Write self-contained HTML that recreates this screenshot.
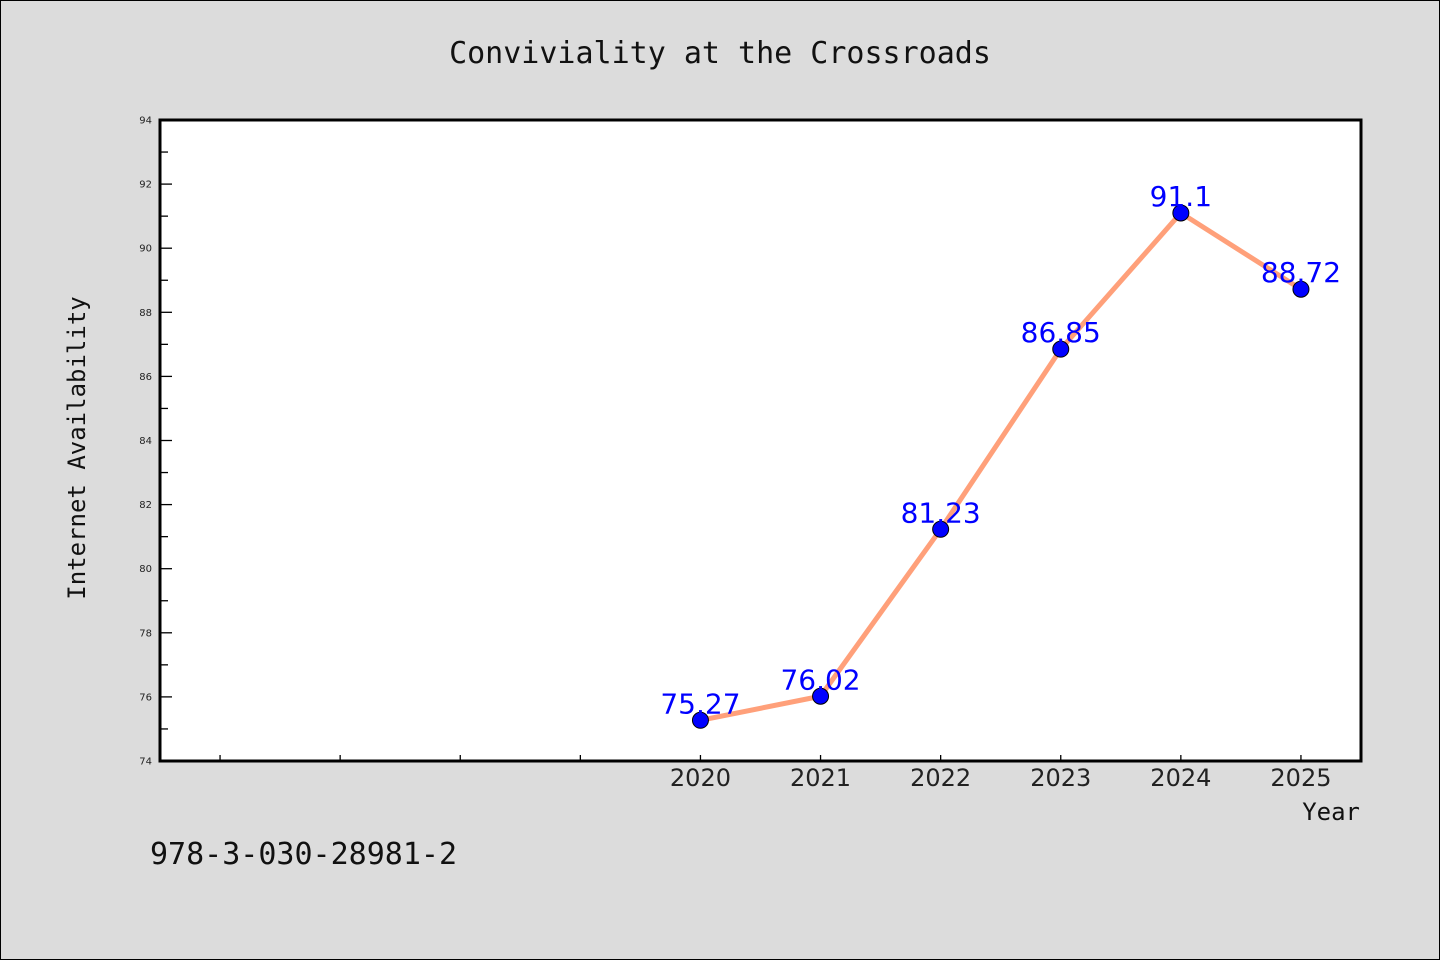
<!DOCTYPE html>
<html><head><meta charset="utf-8"><style>
body{margin:0;background:#dcdcdc;}
svg{display:block}
</style></head><body>
<svg width="1440" height="960" xmlns="http://www.w3.org/2000/svg">
<rect x="0.5" y="0.5" width="1439" height="959" fill="#dcdcdc" stroke="#000"/>
<text x="720" y="63" text-anchor="middle" font-family="DejaVu Sans Mono, Liberation Mono, monospace" font-size="30" fill="#111">Conviviality at the Crossroads</text>
<rect x="160" y="120" width="1201" height="641" fill="#fff"/>
<g id="axes"></g>
<g id="marks"></g>
<rect x="160" y="120" width="1201" height="641" fill="none" stroke="#000" stroke-width="3"/>
<text transform="translate(85,448) rotate(-90)" text-anchor="middle" font-family="DejaVu Sans Mono, Liberation Mono, monospace" font-size="24" fill="#111">Internet Availability</text>
<text x="1360" y="820" text-anchor="end" font-family="DejaVu Sans Mono, Liberation Mono, monospace" font-size="24" fill="#111">Year</text>
<text x="150" y="864" font-family="DejaVu Sans Mono, Liberation Mono, monospace" font-size="30" fill="#111">978-3-030-28981-2</text>
</svg>
<script>
const years = [2020, 2021, 2022, 2023, 2024, 2025];
const values = [75.27, 76.02, 81.23, 86.85, 91.1, 88.72];
const valueLabels = ["75.27", "76.02", "81.23", "86.85", "91.1", "88.72"];
const yTicks = [74, 76, 78, 80, 82, 84, 86, 88, 90, 92, 94];
const xMinorTicks = [2016, 2017, 2018, 2019];

const NS = "http://www.w3.org/2000/svg";
const X0 = 160, X1 = 1361, Y0 = 761, Y1 = 120;
const xMin = 2015.5, xMax = 2025.5, yMin = 74, yMax = 94;
const xs = v => X0 + (v - xMin) / (xMax - xMin) * (X1 - X0);
const ys = v => Y0 - (v - yMin) / (yMax - yMin) * (Y0 - Y1);
function mk(tag, attrs, parent) {
  const e = document.createElementNS(NS, tag);
  for (const k in attrs) e.setAttribute(k, attrs[k]);
  parent.appendChild(e);
  return e;
}
const axes = document.getElementById('axes');
const marks = document.getElementById('marks');

yTicks.forEach(t => {
  const y = ys(t);
  const tk = mk('line', {x1: X0, x2: X0 + 12, y1: y, y2: y, stroke: '#000', 'stroke-width': 1.3}, axes);
  
  
  const lb = mk('text', {x: X0 - 8, y: y + 3.5, 'text-anchor': 'end', 'font-family': 'DejaVu Sans, Liberation Sans, sans-serif', 'font-size': 10, fill: '#222'}, axes);
  lb.textContent = t;
  
  
  if (t < yMax) {
    const ym = ys(t + 1);
    const mt = mk('line', {x1: X0, x2: X0 + 8, y1: ym, y2: ym, stroke: '#000', 'stroke-width': 1.3}, axes);
    
    
  }
});
xMinorTicks.forEach(t => {
  const x = xs(t);
  const mt = mk('line', {x1: x, x2: x, y1: Y0, y2: Y0 - 6, stroke: '#000', 'stroke-width': 1.3}, axes);
  
  
});
years.forEach(yr => {
  const x = xs(yr);
  const tk = mk('line', {x1: x, x2: x, y1: Y0, y2: Y0 - 6, stroke: '#000', 'stroke-width': 1.3}, axes);
  
  
  const lb = mk('text', {x: x, y: Y0 + 25, 'text-anchor': 'middle', 'font-family': 'DejaVu Sans, Liberation Sans, sans-serif', 'font-size': 24, fill: '#222'}, axes);
  lb.textContent = yr;
  
  
});

const line = mk('polyline', {points: years.map((yr, i) => xs(yr) + ',' + ys(values[i])).join(' '), fill: 'none', stroke: '#ffa07a', 'stroke-width': 5, 'stroke-linejoin': 'round'}, marks);


years.forEach((yr, i) => {
  const c = mk('circle', {cx: xs(yr), cy: ys(values[i]), r: 8, fill: '#0000ff', stroke: '#000', 'stroke-width': 1}, marks);
  
  
});
years.forEach((yr, i) => {
  const t = mk('text', {x: xs(yr), y: ys(values[i]) - 7, 'text-anchor': 'middle', 'font-family': 'DejaVu Sans, Liberation Sans, sans-serif', 'font-size': 28, fill: '#0000ff'}, marks);
  t.textContent = valueLabels[i];
  
  
});
</script>
</body></html>
